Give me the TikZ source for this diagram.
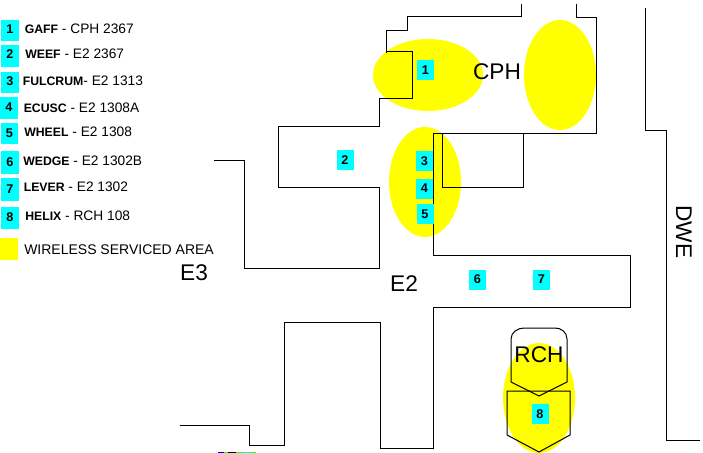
\documentclass[tikz,border=0pt]{standalone}
\usepackage{fontspec}
\setmainfont{Liberation Sans}
\definecolor{areayellow}{RGB}{255,255,0}
\definecolor{numcyan}{RGB}{0,255,255}
\newcommand{\keyname}[1]{{\fontsize{9.2}{10}\selectfont\bfseries #1}}
\tikzset{
  numbox/.style={fill=numcyan, inner sep=0pt, font=\fontsize{9.5}{10}\selectfont\bfseries},
  legendtext/.style={anchor=west, inner sep=0pt, font=\fontsize{10.3}{11}\selectfont},
  wingtext/.style={inner sep=0pt, font=\fontsize{17}{18}\selectfont},
  wall/.style={line width=0.75pt, line join=miter}
}
\begin{document}
\begin{tikzpicture}[x=0.75pt, y=-0.75pt]
  \useasboundingbox (0,0) rectangle (703,453);
  % wireless areas
  \fill[areayellow] (428,75) ellipse [x radius=55, y radius=36];
  \fill[areayellow] (560,75) ellipse [x radius=36, y radius=55];
  \fill[areayellow] (425,182) ellipse [x radius=36, y radius=55];
  \fill[areayellow] (539,398) ellipse [x radius=36, y radius=55];
  % walls
  \draw[wall] (521,4) -- (521,17) -- (407,17) -- (407,31) -- (386,31) -- (386,53);
  \draw[wall] (386,52) -- (412,52) -- (412,99) -- (379,99) -- (379,126) -- (278,126)
    -- (278,187) -- (379,187) -- (379,268) -- (244,268) -- (244,160) -- (214,160);
  \draw[wall] (576,4) -- (576,18) -- (596,18) -- (596,133) -- (433,133) -- (433,255)
    -- (630,255) -- (630,307) -- (433,307) -- (433,448) -- (380,448) -- (380,322)
    -- (284,322) -- (284,445) -- (249,445) -- (249,425) -- (180,425);
  \draw[wall] (442,133) -- (442,187) -- (523,187) -- (523,133);
  \draw[wall] (645,8) -- (645,130) -- (666,130) -- (666,440) -- (700,440);
  % rch outline
  \draw[wall] (511,339) .. controls (511,332) and (518,328) .. (524,328) -- (555,328)
    .. controls (561,328) and (567,332) .. (567,339)
    -- (567,382) -- (539,396) -- (511,382) -- cycle;
  \draw[wall] (507,391) -- (507,435) -- (539,452) -- (570,435) -- (570,391) -- cycle;
  % stray strip along the bottom edge
  \fill[blue!70!black] (218,451.5) rectangle (224,453);
  \fill[green!80!yellow] (224,451.5) rectangle (228,453);
  \fill[black] (228,451.5) rectangle (236,453);
  \fill[green!80!yellow] (236,451.5) rectangle (243,453);
  \fill[numcyan] (243,451.5) rectangle (250,453);
  \fill[green!80!yellow] (250,451.5) rectangle (256,453);
  % wing names
  \node[wingtext] (cph) at (497,72) {CPH};
  \node[wingtext] (ethree) at (194,273) {E3};
  \node[wingtext] (etwo) at (404,284) {E2};
  \node[wingtext] (rch) at (539,355) {RCH};
  \node[wingtext, rotate=-90] (dwe) at (684,232) {DWE};
  % room numbers on the plan
  \node[numbox, minimum width=12.75pt, minimum height=15pt] (room1) at (425.5,70) {1};
  \node[numbox, minimum width=12.75pt, minimum height=15pt] (room2) at (345,160) {2};
  \node[numbox, minimum width=12.75pt, minimum height=15pt] (room3) at (424.5,161) {3};
  \node[numbox, minimum width=12.75pt, minimum height=15pt] (room4) at (424.5,188.5) {4};
  \node[numbox, minimum width=12.75pt, minimum height=15pt] (room5) at (425,214) {5};
  \node[numbox, minimum width=12.75pt, minimum height=15pt] (room6) at (477.5,279.5) {6};
  \node[numbox, minimum width=12.75pt, minimum height=15pt] (room7) at (541.5,279.5) {7};
  \node[numbox, minimum width=12.75pt, minimum height=15pt] (room8) at (540,414) {8};
  % legend
  \node[numbox, minimum width=13.5pt, minimum height=16pt] (key1) at (10,30.5) {\raisebox{1.5pt}{1}};
  \node[numbox, minimum width=13.5pt, minimum height=16pt] (key2) at (10,56) {\raisebox{2.5pt}{2}};
  \node[numbox, minimum width=13.5pt, minimum height=16pt] (key3) at (10,82.5) {\raisebox{2pt}{3}};
  \node[numbox, minimum width=13.5pt, minimum height=16pt] (key4) at (9,108) {\raisebox{1.5pt}{4}};
  \node[numbox, minimum width=13pt, minimum height=16pt] (key5) at (9.5,133.5) {5};
  \node[numbox, minimum width=13.5pt, minimum height=17pt] (key6) at (10,162.5) {6};
  \node[numbox, minimum width=13.5pt, minimum height=17pt] (key7) at (10,189.5) {7};
  \node[numbox, minimum width=13.5pt, minimum height=17pt] (key8) at (10,218) {\raisebox{1.5pt}{8}};
  \node[fill=areayellow, inner sep=0pt, minimum width=13.5pt, minimum height=16.5pt] (keyarea) at (9,249) {};
  \node[legendtext] (text1) at (24.5,29) {\keyname{GAFF} - CPH 2367};
  \node[legendtext] (text2) at (25,54) {\keyname{WEEF} - E2 2367};
  \node[legendtext] (text3) at (22.5,81) {\keyname{FULCRUM}- E2 1313};
  \node[legendtext] (text4) at (23.5,108) {\keyname{ECUSC} - E2 1308A};
  \node[legendtext] (text5) at (24,132) {\keyname{WHEEL} - E2 1308};
  \node[legendtext] (text6) at (23,161) {\keyname{WEDGE} - E2 1302B};
  \node[legendtext] (text7) at (23.5,187) {\keyname{LEVER} - E2 1302};
  \node[legendtext] (text8) at (25,216) {\keyname{HELIX} - RCH 108};
  \node[legendtext, font=\fontsize{10.5}{11}\selectfont] (textarea) at (24,250) {WIRELESS SERVICED AREA};
\end{tikzpicture}
\end{document}
